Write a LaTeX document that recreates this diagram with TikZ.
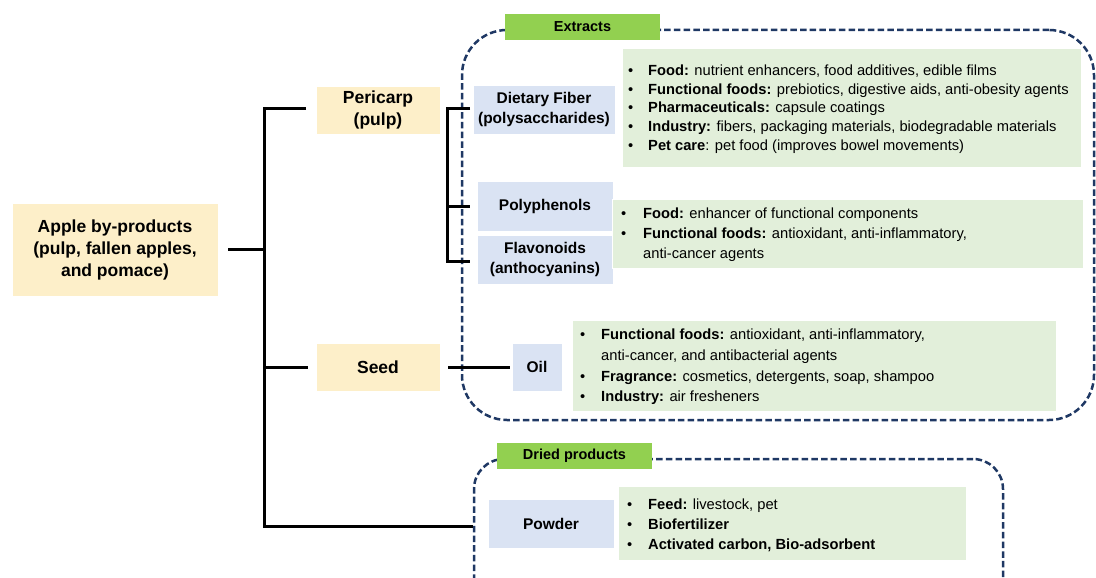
\documentclass[tikz,border=0pt]{standalone}
\usepackage{fontspec}
\setmainfont{Liberation Sans}
\definecolor{boxyellow}{HTML}{FDEFC9}
\definecolor{boxblue}{HTML}{DAE3F3}
\definecolor{boxgreen}{HTML}{E2EFDA}
\definecolor{labgreen}{HTML}{92D050}
\definecolor{navy}{HTML}{1F3864}
\newcommand{\ubul}[1]{\makebox[#1][l]{•}}
\tikzset{
  conn/.style={line width=3pt, draw=black, line join=miter},
  ybox/.style={fill=boxyellow, draw=white, line width=0.8pt, align=center, inner sep=0pt,
    font=\bfseries\fontsize{17.5}{22}\selectfont},
  bbox/.style={fill=boxblue, draw=white, line width=0.8pt, align=center, inner sep=0pt,
    font=\bfseries\fontsize{15.5}{19.5}\selectfont},
  gbox/.style={fill=boxgreen, draw=white, line width=0.8pt, inner sep=0pt},
  glabel/.style={fill=labgreen, inner sep=0pt, minimum width=155pt, minimum height=26pt,
    font=\bfseries\fontsize{14.5}{17}\selectfont},
  dbox/.style={draw=navy, line width=2.5pt, dash pattern=on 6.5pt off 3.2pt, inner sep=0pt},
  uses/.style={anchor=west, inner sep=0pt, align=left}
}
\begin{document}
\begin{tikzpicture}[x=1pt,y=-1pt]
\useasboundingbox (0,0) rectangle (1096,578);
\clip (0,0) rectangle (1096,578);

% dashed group boxes
\node[dbox, rounded corners=45pt, minimum width=632pt, minimum height=390pt] (extbox) at (778,225) {};
\node[dbox, rounded corners=30pt, minimum width=529pt, minimum height=161pt] (drybox) at (738.5,539.5) {};

% group labels
\node[glabel] (extlab) at (582.5,27) {Extracts};
\node[glabel] (drylab) at (574.5,456) {Dried products};

% main boxes
\node[ybox, minimum width=206pt, minimum height=93pt, outer xsep=10pt] (apple) at (115,249.5)
  {Apple by-products\\(pulp, fallen apples,\\and pomace)};
\node[ybox, minimum width=124pt, minimum height=48pt, outer xsep=10pt] (peri) at (378,110)
  {Pericarp\\(pulp)};
\node[ybox, minimum width=124pt, minimum height=48pt, outer xsep=8pt] (seed) at (378,367)
  {Seed};

% blue boxes
\node[bbox, minimum width=142pt, minimum height=49pt, outer xsep=3pt] (fiber) at (544,109.5)
  {Dietary Fiber\\(polysaccharides)};
\node[bbox, minimum width=136pt, minimum height=50pt, outer xsep=7pt] (poly) at (545,206)
  {Polyphenols};
\node[bbox, minimum width=136pt, minimum height=49pt, outer xsep=7pt] (flav) at (545,259.5)
  {Flavonoids\\(anthocyanins)};
\node[bbox, minimum width=50pt, minimum height=48pt, outer xsep=2pt] (oil) at (537,367)
  {Oil};
\node[bbox, minimum width=126pt, minimum height=49pt] (powder) at (551,523.5)
  {Powder};

% green use boxes
\node[gbox, minimum width=459pt, minimum height=119pt] (g1) at (851.5,107.5) {};
\node[gbox, minimum width=471pt, minimum height=69pt] (g2) at (847.5,233.5) {};
\node[gbox, minimum width=484pt, minimum height=91pt] (g3) at (814,365.5) {};
\node[gbox, minimum width=348pt, minimum height=74pt] (g4) at (792,523) {};

\node[uses, font=\fontsize{14.7}{18.75}\selectfont] (t1) at (628,109)
  {\ubul{20pt}\textbf{Food:} nutrient enhancers, food additives, edible films\\
   \ubul{20pt}\textbf{Functional foods:} prebiotics, digestive aids, anti-obesity agents\\
   \ubul{20pt}\textbf{Pharmaceuticals:} capsule coatings\\
   \ubul{20pt}\textbf{Industry:} fibers, packaging materials, biodegradable materials\\
   \ubul{20pt}\textbf{Pet care}: pet food (improves bowel movements)};
\node[uses, font=\fontsize{14.7}{20}\selectfont] (t2) at (621,235)
  {\ubul{22pt}\textbf{Food:} enhancer of functional components\\
   \ubul{22pt}\textbf{Functional foods:} antioxidant, anti-inflammatory,\\
   \hspace*{22pt}anti-cancer agents};
\node[uses, font=\fontsize{14.7}{20.7}\selectfont] (t3) at (580,367)
  {\ubul{21pt}\textbf{Functional foods:} antioxidant, anti-inflammatory,\\
   \hspace*{21pt}anti-cancer, and antibacterial agents\\
   \ubul{21pt}\textbf{Fragrance:} cosmetics, detergents, soap, shampoo\\
   \ubul{21pt}\textbf{Industry:} air fresheners};
\node[uses, font=\fontsize{14.7}{20}\selectfont] (t4) at (627,525)
  {\ubul{21pt}\textbf{Feed:} livestock, pet\\
   \ubul{21pt}\textbf{Biofertilizer}\\
   \ubul{21pt}\textbf{Activated carbon, Bio-adsorbent}};

% connectors
\coordinate (jt) at (264,109);
\coordinate (jb) at (264,526);
\coordinate (bt) at (447,109);
\coordinate (bb) at (447,261);
\draw[conn] (jt -| peri.west) -- (jt) -- (jb) -- (jb -| drybox.west);
\draw[conn] (apple.east) -- (apple.east -| jt);
\draw[conn] (seed.west -| jt) -- (seed.west);
\draw[conn] (bt -| fiber.west) -- (bt) -- (bb) -- (bb -| flav.west);
\draw[conn] (bt |- poly.west) -- (poly.west);
\draw[conn] (seed.east) -- (oil.west);
\end{tikzpicture}
\end{document}
